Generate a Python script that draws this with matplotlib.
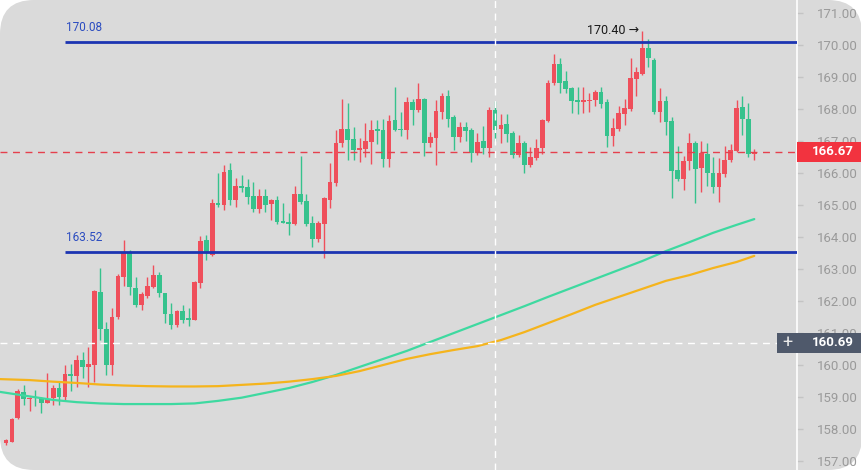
import numpy as np
import matplotlib.pyplot as plt
from matplotlib.patches import Rectangle, FancyBboxPatch
from matplotlib.transforms import IdentityTransform, blended_transform_factory

plt.rcParams['font.family'] = ['Roboto', 'DejaVu Sans']

# OHLC, one entry per candle (red = up, green = down)
opens = [157.56, 157.60, 158.33, 159.17, 158.93, 158.98, 158.97, 158.82, 158.96, 159.27,
         158.99, 159.72, 159.66, 160.16, 159.93, 160.00, 162.29, 161.14, 160.00, 161.49,
         162.76, 163.49, 162.40, 161.88, 162.17, 162.45, 162.81, 162.26, 161.59, 161.25,
         161.69, 161.47, 161.41, 162.55, 163.91, 163.44, 165.07, 165.00, 166.09, 165.16,
         165.59, 165.57, 165.28, 164.87, 165.28, 165.03, 165.16, 164.50, 164.48, 164.41,
         165.34, 165.13, 164.45, 163.93, 164.41, 165.16, 165.70, 166.93, 167.37, 167.05,
         166.72, 166.74, 166.98, 167.37, 167.34, 166.44, 167.66, 167.39, 167.34, 168.23,
         167.97, 168.30, 166.95, 167.08, 167.92, 168.41, 167.76, 167.13, 167.44, 167.34,
         166.63, 167.00, 166.77, 167.97, 167.39, 167.52, 167.24, 166.56, 166.95, 166.25,
         166.48, 166.77, 167.63, 168.80, 169.40, 168.87, 168.65, 168.28, 168.23, 168.24,
         168.28, 168.54, 168.21, 167.17, 167.39, 167.83, 168.00, 168.94, 169.08, 169.92,
         169.53, 167.92, 168.26, 167.63, 166.09, 165.80, 166.38, 166.95, 166.15, 166.60,
         165.99, 165.55, 165.97, 166.41, 166.70, 168.05, 167.70, 166.59]
highs = [157.70, 158.35, 159.24, 159.38, 159.00, 159.22, 159.00, 159.76, 159.38, 159.50,
         160.00, 160.03, 160.30, 160.40, 160.55, 162.35, 163.02, 161.35, 161.77, 162.84,
         163.91, 163.60, 162.76, 162.29, 162.76, 163.12, 162.92, 162.26, 161.93, 161.72,
         161.88, 161.78, 162.62, 164.03, 164.06, 165.18, 165.99, 166.25, 166.31, 165.84,
         165.94, 165.80, 165.73, 165.50, 165.50, 165.20, 165.28, 165.06, 164.75, 165.59,
         166.53, 165.34, 164.66, 164.50, 165.26, 166.30, 167.34, 168.30, 168.20, 167.45,
         167.09, 167.57, 167.66, 167.66, 167.69, 167.80, 168.70, 167.92, 168.39, 168.30,
         168.82, 168.35, 167.28, 168.28, 168.50, 168.60, 167.80, 167.60, 167.60, 167.40,
         167.25, 167.47, 168.06, 168.25, 167.84, 167.84, 167.30, 167.20, 167.00, 166.80,
         167.05, 167.70, 168.90, 169.71, 169.60, 169.20, 168.70, 168.70, 168.70, 168.49,
         168.60, 168.70, 168.30, 167.73, 168.10, 168.30, 169.58, 169.30, 170.44, 170.18,
         169.60, 168.66, 168.40, 167.74, 166.84, 166.53, 167.24, 167.00, 167.00, 166.95,
         166.50, 166.47, 166.84, 166.90, 168.27, 168.41, 168.20, 166.75]
lows = [157.50, 157.58, 158.30, 158.75, 158.56, 158.72, 158.49, 158.80, 158.74, 158.74,
        158.90, 159.20, 159.30, 159.60, 159.30, 159.47, 160.78, 159.69, 159.69, 161.45,
        162.47, 162.19, 161.82, 161.72, 162.10, 162.40, 162.13, 161.30, 161.12, 161.20,
        161.30, 161.22, 161.40, 162.40, 163.28, 163.40, 164.95, 164.84, 165.00, 164.94,
        165.40, 165.02, 164.79, 164.75, 164.78, 164.53, 164.41, 164.43, 164.06, 164.38,
        165.03, 164.34, 163.70, 163.83, 163.33, 164.90, 165.60, 166.80, 166.41, 166.41,
        166.34, 166.49, 166.28, 166.91, 166.20, 166.20, 167.30, 167.16, 167.06, 167.50,
        167.90, 166.53, 166.80, 166.25, 167.70, 167.44, 166.72, 166.98, 167.00, 166.35,
        166.55, 166.60, 166.50, 167.00, 166.93, 166.97, 166.47, 166.50, 165.99, 166.20,
        166.40, 166.60, 167.60, 168.75, 168.50, 168.50, 167.87, 167.85, 167.87, 167.90,
        168.10, 168.02, 166.82, 166.85, 167.30, 167.50, 167.95, 168.40, 169.06, 169.30,
        167.85, 167.60, 167.20, 165.21, 165.75, 165.47, 166.09, 165.05, 165.42, 165.60,
        165.37, 165.10, 165.87, 166.35, 166.65, 167.20, 166.50, 166.40]
closes = [157.66, 158.31, 159.20, 158.93, 158.98, 158.96, 158.82, 158.93, 159.29, 158.99,
          159.72, 159.67, 160.16, 159.93, 160.03, 162.31, 161.12, 160.00, 161.49, 162.78,
          163.49, 162.43, 161.88, 162.22, 162.47, 162.81, 162.26, 161.59, 161.25, 161.69,
          161.41, 161.41, 162.60, 163.88, 163.49, 165.07, 165.00, 166.04, 165.16, 165.59,
          165.52, 165.26, 164.87, 165.28, 165.00, 165.16, 164.48, 164.45, 164.41, 165.34,
          165.10, 164.41, 163.93, 164.45, 165.21, 165.73, 166.95, 167.37, 167.03, 166.72,
          166.77, 167.00, 167.34, 167.31, 166.44, 167.63, 167.34, 167.34, 168.23, 167.97,
          168.30, 166.95, 167.13, 167.95, 168.41, 167.68, 167.13, 167.44, 167.32, 166.63,
          166.98, 166.79, 167.97, 167.34, 167.50, 167.22, 166.56, 166.95, 166.25, 166.51,
          166.79, 167.66, 168.80, 169.40, 168.80, 168.63, 168.25, 168.21, 168.28, 168.28,
          168.54, 168.15, 167.17, 167.42, 167.87, 168.02, 168.96, 169.15, 169.92, 169.60,
          167.92, 168.26, 167.60, 166.07, 165.80, 166.38, 166.95, 166.12, 166.62, 165.99,
          165.55, 165.99, 166.41, 166.72, 168.02, 167.68, 166.59, 166.67]

# moving averages, read every 4 candles
ma_idx = [-1, 4, 8, 12, 16, 20, 24, 28, 32, 36, 40, 44, 48, 52, 56, 60, 64,
          68, 72, 76, 80, 84, 88, 92, 96, 100, 104, 108, 112, 116, 120, 124, 127]
ma_fast = [159.16, 159.02, 158.91, 158.84, 158.80, 158.78, 158.78, 158.78, 158.80, 158.88,
           158.98, 159.13, 159.28, 159.47, 159.69, 159.94, 160.19, 160.44, 160.72, 161.00,
           161.28, 161.56, 161.84, 162.13, 162.41, 162.69, 162.97, 163.25, 163.56, 163.84,
           164.13, 164.38, 164.56]
ma_slow = [159.56, 159.53, 159.48, 159.44, 159.39, 159.36, 159.34, 159.33, 159.33, 159.34,
           159.38, 159.42, 159.48, 159.56, 159.66, 159.81, 160.00, 160.19, 160.34, 160.47,
           160.59, 160.78, 161.03, 161.31, 161.59, 161.88, 162.13, 162.38, 162.63, 162.81,
           163.03, 163.22, 163.41]

resistance = 170.08
support = 163.52
level_start = 10
last_price = 166.67
cross_price = 160.69
cross_idx = 83
peak_price = 170.40
peak_idx = 108
yticks = list(range(157, 172))

UP = '#ef4f5b'
DOWN = '#36c28d'
BG = '#dadada'

W, H = 862, 470
AX_R = 797
fig = plt.figure(figsize=(W / 100, H / 100), dpi=100, facecolor='white')
bg = FancyBboxPatch((0, 0), W, H, boxstyle='round,pad=0,rounding_size=34',
                    transform=IdentityTransform(), fc=BG, ec='none', zorder=-10)
fig.add_artist(bg)

ax = fig.add_axes([0, 0, AX_R / W, 1])
ax.patch.set_alpha(0)
ax.set_xlim(-1.02, 134.25)
ax.set_ylim(156.72, 171.406)

x = np.arange(len(opens))
o = np.array(opens); c = np.array(closes)
cols = [UP if cc >= oo else DOWN for oo, cc in zip(o, c)]
ax.vlines(x, lows, highs, colors=cols, lw=1, zorder=2)
ax.bar(x, np.maximum(np.abs(c - o), 0.05), bottom=np.minimum(o, c), width=0.8,
       color=cols, zorder=3, linewidth=0)

ax.plot(ma_idx, ma_fast, color='#3ed9a0', lw=1.6, zorder=4, solid_capstyle='round')
ax.plot(ma_idx, ma_slow, color='#f5b41c', lw=1.6, zorder=4, solid_capstyle='round')

# key levels
ax.hlines([resistance, support], level_start, 134.25, color='#1c34b2', lw=2.0, zorder=5)
ax.text(level_start + 0.2, resistance + 0.48, f'{resistance:.2f}', color='#2b4cc0',
        fontsize=8.5, va='center', ha='left')
ax.text(level_start + 0.2, support + 0.48, f'{support:.2f}', color='#2b4cc0',
        fontsize=8.5, va='center', ha='left')
ax.text(peak_idx - 0.6, peak_price + 0.04, f'{peak_price:.2f} \u2192', color='#1a1a1a',
        fontsize=9, va='center', ha='right')

ax.axhline(last_price, color='#e5404d', lw=1, ls=(0, (5, 4)), zorder=6)
ax.axhline(cross_price, xmax=777 / AX_R, color='white', lw=1, ls=(0, (5, 4)), zorder=6)
ax.axvline(cross_idx, color='white', lw=1, ls=(0, (5, 4)), zorder=6)

# price axis on the right
ax.yaxis.tick_right()
ax.set_yticks(yticks)
ax.set_yticklabels([f'{v:.2f}' for v in yticks])
ax.tick_params(axis='y', colors='#c4c4c4', labelcolor='#9a9a9a', labelsize=9.5,
               length=4, width=1, pad=10)
ax.set_xticks([])
for s in ['left', 'top', 'bottom']:
    ax.spines[s].set_visible(False)
ax.spines['right'].set_color('white')
ax.spines['right'].set_linewidth(1.2)

trans = blended_transform_factory(fig.transFigure, ax.transData)
bh = 20 / 32.0
fig.add_artist(Rectangle((AX_R / W, last_price - bh / 2), (W - AX_R) / W, bh,
                         transform=trans, fc='#f2333f', ec='none', zorder=5))
fig.text(812 / W, last_price, f'{last_price:.2f}', transform=trans, color='white',
         fontsize=9.5, fontweight='bold', va='center', ha='left', zorder=6)
fig.add_artist(Rectangle((777 / W, cross_price - bh / 2), (W - 777) / W, bh,
                         transform=trans, fc='#4f596b', ec='none', zorder=5))
fig.text(787 / W, cross_price, '+', transform=trans, color='#e8e8e8',
         fontsize=13, va='center', ha='center', zorder=6)
fig.text(812 / W, cross_price, f'{cross_price:.2f}', transform=trans, color='white',
         fontsize=9.5, fontweight='bold', va='center', ha='left', zorder=6)

fig.savefig('out.png', dpi=100, facecolor='white')
